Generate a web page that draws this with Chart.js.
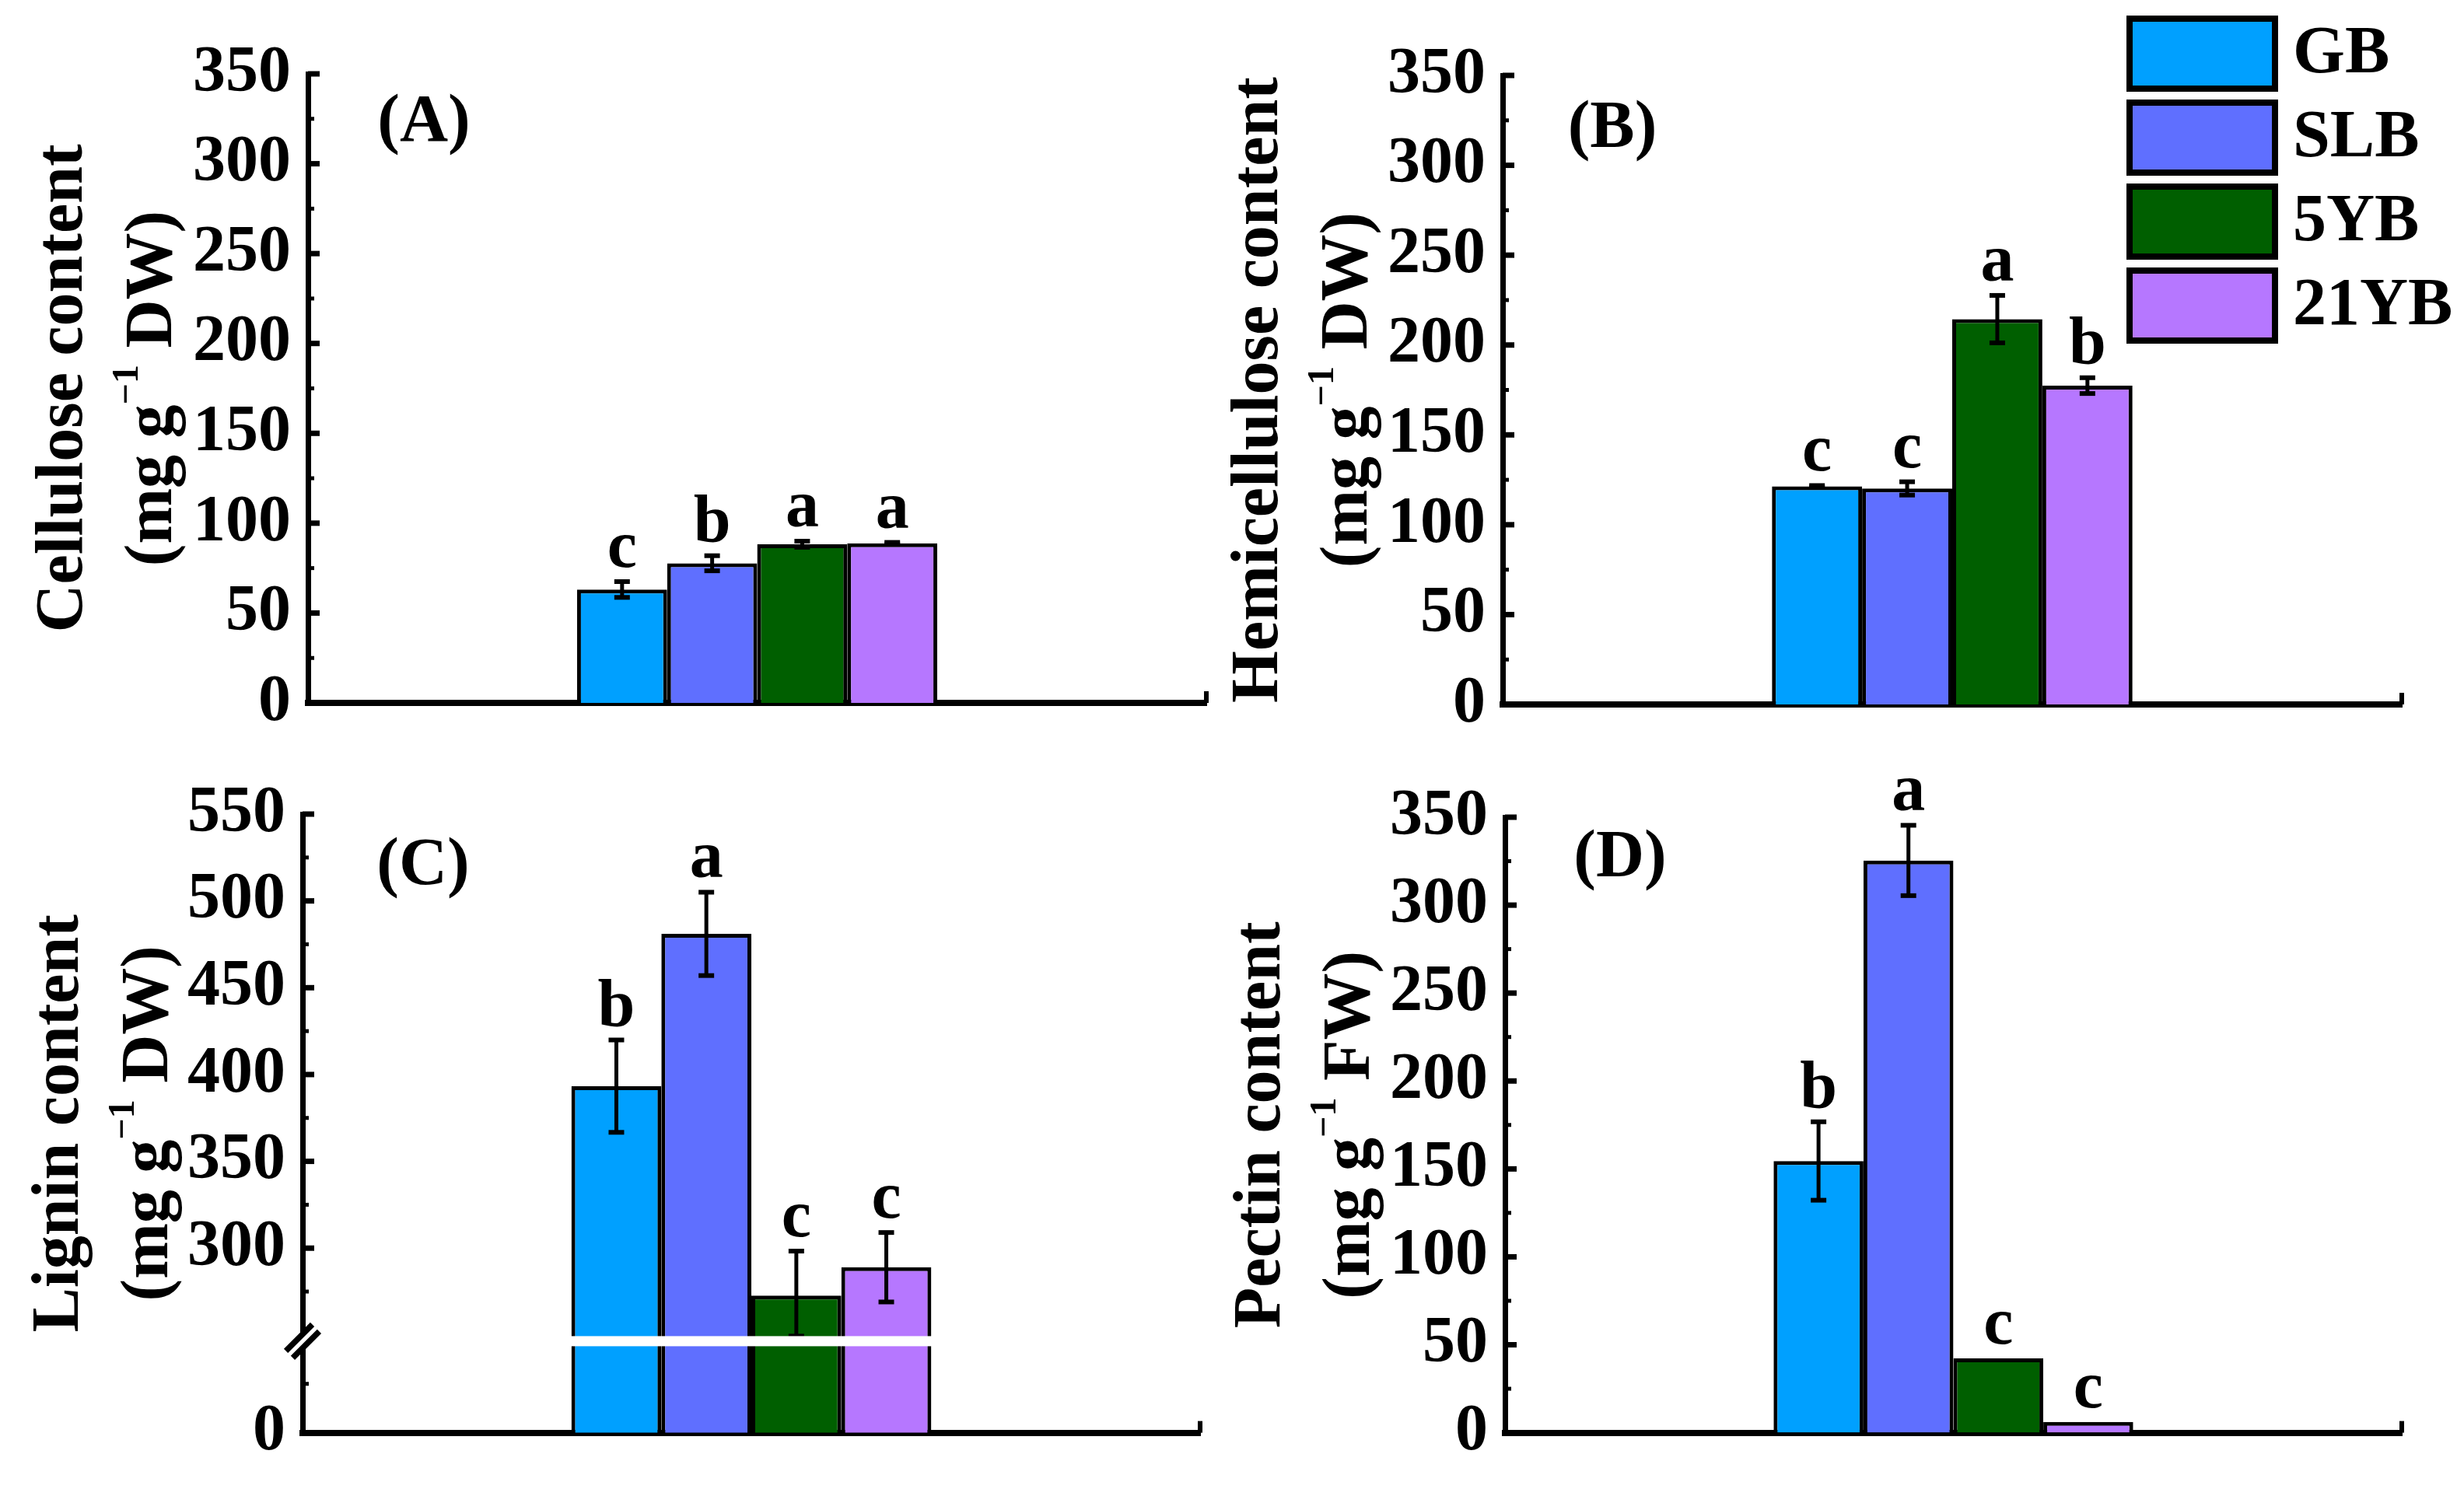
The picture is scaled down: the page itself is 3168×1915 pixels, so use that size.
<!DOCTYPE html>
<html>
<head>
<meta charset="utf-8">
<script src="https://cdn.jsdelivr.net/npm/chart.js@4.4.1/dist/chart.umd.min.js"></script>
<style>
  html, body { margin: 0; padding: 0; background: #fff; }
  #page { position: relative; width: 3168px; height: 1915px; overflow: hidden; background: #fff; }
  #page canvas { position: absolute; left: 0; top: 0; }
</style>
</head>
<body>
<div id="page"></div>
<script>
const groups = ['GB', 'SLB', '5YB', '21YB'];
const colors = ['#00a0ff', '#5f6fff', '#005f00', '#b677ff'];

const celluloseMean = [63.1, 77.7, 88.3, 88.8];
const celluloseSd = [4.4, 4.2, 1.7, 0.5];
const celluloseLetters = ['c', 'b', 'a', 'a'];

const hemiMean = [121.3, 120.2, 214.4, 177.4];
const hemiSd = [0.5, 3.7, 13.2, 4.4];
const hemiLetters = ['c', 'c', 'a', 'b'];

const ligninMean = [393.3, 481.0, 272.7, 289.0];
const ligninSd = [26.6, 24.0, 25.6, 20.0];
const ligninLetters = ['b', 'a', 'c', 'c'];

const pectinMean = [154.5, 325.4, 42.3, 6.1];
const pectinSd = [22.3, 20.0, 0, 0];
const pectinLetters = ['b', 'a', 'c', 'c'];

const contentTicks = [0, 50, 100, 150, 200, 250, 300, 350];
const ligninTicks = [0, 300, 350, 400, 450, 500, 550];
const ligninMinorTicks = [125, 275, 325, 375, 425, 475, 525];

const W = 3168, H = 1915;
const FONT = "'Times New Roman', 'Liberation Serif', serif";
Chart.defaults.font.family = FONT;
Chart.defaults.color = '#000';

// lignin axis is broken at 250, everything below is squeezed into a short stub
const BREAK = 250;
const STUB = 56.3;
const toBroken = (v) => (v >= BREAK ? v : BREAK - STUB + (v * STUB) / BREAK);
const same = (v) => v;

const midpoints = (t) => t.slice(1).map((v, i) => (v + t[i]) / 2);

const panels = [
  {
    name: '(A)', mean: celluloseMean, sd: celluloseSd, letters: celluloseLetters,
    title: 'Cellulose content', unit: 'DW',
    area: { left: 396, right: 1551, top: 95, bottom: 904 }, titleBase: 105,
    tag: { x: 545, y: 159 }, major: contentTicks, minor: midpoints(contentTicks),
  },
  {
    name: '(B)', mean: hemiMean, sd: hemiSd, letters: hemiLetters,
    title: 'Hemicellulose content', unit: 'DW',
    area: { left: 1932, right: 3088, top: 97, bottom: 906 }, titleBase: 1642,
    tag: { x: 2073, y: 167 }, major: contentTicks, minor: midpoints(contentTicks),
    legend: true,
  },
  {
    name: '(C)', mean: ligninMean, sd: ligninSd, letters: ligninLetters,
    title: 'Lignin content', unit: 'DW',
    area: { left: 389, right: 1543, top: 1047, bottom: 1855 }, titleBase: 100,
    tag: { x: 544, y: 1115 }, major: ligninTicks, minor: ligninMinorTicks,
    broken: true,
  },
  {
    name: '(D)', mean: pectinMean, sd: pectinSd, letters: pectinLetters,
    title: 'Pectin content', unit: 'FW',
    area: { left: 1935, right: 3088, top: 1051, bottom: 1858 }, titleBase: 1645,
    tag: { x: 2083, y: 1105 }, major: contentTicks, minor: midpoints(contentTicks),
  },
];

function line(ctx, x1, y1, x2, y2, w, color) {
  ctx.beginPath();
  ctx.lineWidth = w;
  ctx.strokeStyle = color || '#000';
  ctx.moveTo(x1, y1);
  ctx.lineTo(x2, y2);
  ctx.stroke();
}

// rotated two-line axis title with a real superscript in the unit
function drawTitle(ctx, cfg, area) {
  const big = 'bold 86px ' + FONT;
  const small = 'bold 48px ' + FONT;
  const cy = (area.top + area.bottom) / 2;
  ctx.save();
  ctx.translate(cfg.titleBase, cy);
  ctx.rotate(-Math.PI / 2);
  ctx.fillStyle = '#000';
  ctx.textBaseline = 'alphabetic';
  ctx.textAlign = 'center';
  ctx.font = big;
  ctx.fillText(cfg.title, 0, 0);

  const parts = [
    { t: '(mg g', f: big, dy: 0 },
    { t: '\u22121', f: small, dy: -43 },
    { t: ' ' + cfg.unit + ')', f: big, dy: 0 },
  ];
  ctx.textAlign = 'left';
  const widths = parts.map((p) => { ctx.font = p.f; return ctx.measureText(p.t).width; });
  let x = -widths.reduce((a, b) => a + b, 0) / 2;
  parts.forEach((p, i) => {
    ctx.font = p.f;
    ctx.fillText(p.t, x, 115 + p.dy);
    x += widths[i];
  });
  ctx.restore();
}

const decor = {
  id: 'decor',
  afterDraw(chart) {
    const cfg = chart.options.plugins.decor;
    const tf = cfg.broken ? toBroken : same;
    const ctx = chart.ctx;
    const area = chart.chartArea;
    const ys = chart.scales.y;
    ctx.save();
    ctx.lineCap = 'butt';

    // inward ticks
    cfg.major.forEach((v) => {
      if (v === 0) return;
      const y = ys.getPixelForValue(tf(v));
      line(ctx, area.left, y, area.left + 15, y, 7);
    });
    cfg.minor.forEach((v) => {
      const y = ys.getPixelForValue(tf(v));
      line(ctx, area.left, y, area.left + 8, y, 5);
    });
    line(ctx, area.right, area.bottom, area.right, area.bottom - 15, 6);

    // error bars
    const bars = chart.data.datasets.map((d, i) => chart.getDatasetMeta(i).data[0]);
    const tops = bars.map((bar, i) => {
      const sd = cfg.sd[i];
      if (!sd) return bar.y;
      const top = ys.getPixelForValue(tf(cfg.mean[i] + sd));
      const bot = ys.getPixelForValue(tf(cfg.mean[i] - sd));
      line(ctx, bar.x, top, bar.x, bot, 5);
      line(ctx, bar.x - 10, top, bar.x + 10, top, 6);
      line(ctx, bar.x - 10, bot, bar.x + 10, bot, 6);
      return top;
    });

    // broken axis: white gap through the bars and // on the axis
    if (cfg.broken) {
      const y = ys.getPixelForValue(BREAK) + 8;
      const x0 = bars[0].x - bars[0].width / 2 - 4;
      const x1 = bars[3].x + bars[3].width / 2 + 4;
      ctx.fillStyle = '#fff';
      ctx.fillRect(x0, y - 6.5, x1 - x0, 13);
      const cx = area.left;
      line(ctx, cx - 17, y + 17, cx + 17, y - 17, 20, '#000');
      line(ctx, cx - 19, y + 19, cx + 19, y - 19, 5, '#fff');
    }

    // significance letters
    ctx.fillStyle = '#000';
    ctx.font = 'bold 86px ' + FONT;
    ctx.textAlign = 'center';
    ctx.textBaseline = 'alphabetic';
    bars.forEach((bar, i) => ctx.fillText(cfg.letters[i], bar.x, tops[i] - 19));

    // panel tag
    ctx.textBaseline = 'middle';
    ctx.fillText(cfg.name, cfg.tag.x, cfg.tag.y);

    if (cfg.legend) {
      ctx.textAlign = 'left';
      chart.data.datasets.forEach((d, i) => {
        const y = 24 + i * 108;
        ctx.fillStyle = d.backgroundColor;
        ctx.fillRect(2738, y, 187, 90);
        ctx.lineWidth = 8;
        ctx.strokeStyle = '#000';
        ctx.strokeRect(2738, y, 187, 90);
        ctx.fillStyle = '#000';
        ctx.fillText(d.label, 2948, y + 47);
      });
    }
    ctx.restore();

    drawTitle(ctx, cfg, area);
  },
};

function makePanel(cfg) {
  const canvas = document.createElement('canvas');
  canvas.width = W;
  canvas.height = H;
  canvas.style.width = W + 'px';
  canvas.style.height = H + 'px';
  document.getElementById('page').appendChild(canvas);

  const tf = cfg.broken ? toBroken : same;
  const axisBox = 260;

  const datasets = groups.map((g, i) => ({
    label: g,
    data: [tf(cfg.mean[i])],
    backgroundColor: colors[i],
    borderColor: '#000',
    borderWidth: 5,
    categoryPercentage: 0.401,
    barPercentage: 1,
  }));

  return new Chart(canvas, {
    type: 'bar',
    data: { labels: [''], datasets },
    options: {
      responsive: false,
      animation: false,
      devicePixelRatio: 1,
      layout: {
        padding: {
          left: cfg.area.left - axisBox,
          top: cfg.area.top,
          right: W - cfg.area.right,
          bottom: H - cfg.area.bottom,
        },
      },
      plugins: {
        legend: { display: false },
        tooltip: { enabled: false },
        decor: cfg,
      },
      scales: {
        x: {
          grid: { display: false, drawTicks: false },
          ticks: { display: false },
          border: { display: true, color: '#000', width: 8 },
          afterFit: (s) => { s.height = 0; },
        },
        y: {
          min: tf(cfg.major[0]),
          max: cfg.major[cfg.major.length - 1],
          grid: { display: false, drawTicks: false },
          border: { display: true, color: '#000', width: 7 },
          ticks: {
            autoSkip: false,
            padding: 22,
            color: '#000',
            font: { size: 84, weight: 'bold' },
            callback: (v, i) => String(cfg.major[i]),
          },
          title: { display: false },
          afterBuildTicks: (s) => { s.ticks = cfg.major.map((v) => ({ value: tf(v) })); },
          afterFit: (s) => { s.width = axisBox; },
        },
      },
    },
    plugins: [decor],
  });
}

panels.forEach(makePanel);
</script>
</body>
</html>
